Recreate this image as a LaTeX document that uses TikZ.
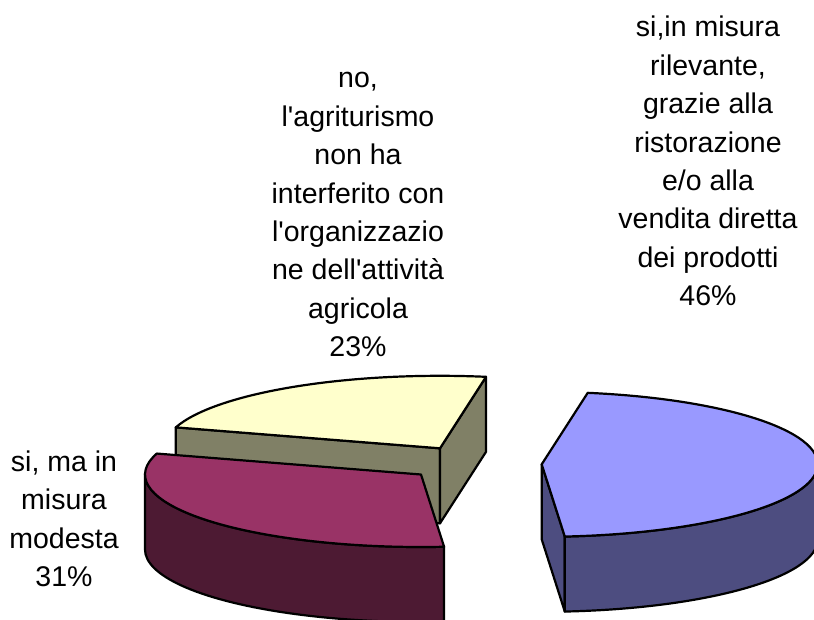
\documentclass[tikz,border=0pt]{standalone}
\usepackage{fontspec}
\setmainfont{Liberation Sans}[Ligatures=TeXOff]
\usepackage{tikz}

\definecolor{bluetop}{HTML}{9999FF}
\definecolor{blueside}{HTML}{4D4D80}
\definecolor{plumtop}{HTML}{993366}
\definecolor{plumside}{HTML}{4D1A33}
\definecolor{creamtop}{HTML}{FFFFCC}
\definecolor{creamside}{HTML}{808066}

\tikzset{
  slice/.style={draw=black, line width=2.2pt, line join=round},
  pielabel/.style={align=center, inner sep=0pt, anchor=base,
    font=\fontsize{28.5}{38.4}\selectfont}
}

\begin{document}
\begin{tikzpicture}[x=1pt, y=-1pt]
\useasboundingbox (0,0) rectangle (814,619);
\clip (0,0) rectangle (814,619);

\def\rx{276}
\def\ry{72.5}
\def\dep{75}

%slice centres
\coordinate (cream) at (440,448.3);
\coordinate (plum) at (421,474.5);
\coordinate (blue) at (541.7,464.3);

%no, 23%
\filldraw[slice, fill=creamside] (cream) -- ++(0,\dep) -- ++(-163.2:276 and 72.5) -- ++(0,-\dep) -- cycle;
\filldraw[slice, fill=creamside] (cream) -- ++(0,\dep) -- ++(-80.4:276 and 72.5) -- ++(0,-\dep) -- cycle;
\filldraw[slice, fill=creamtop] (cream) -- ++(-163.2:276 and 72.5)
    arc[start angle=-163.2, end angle=-80.4, x radius=\rx, y radius=\ry] -- cycle;

%si, ma in misura modesta, 31%
\filldraw[slice, fill=plumside] (plum) ++(85.2:276 and 72.5)
    arc[start angle=85.2, end angle=180, x radius=\rx, y radius=\ry] -- ++(0,\dep)
    arc[start angle=180, end angle=85.2, x radius=\rx, y radius=\ry] -- cycle;
\filldraw[slice, fill=plumtop] (plum) -- ++(85.2:276 and 72.5)
    arc[start angle=85.2, end angle=196.8, x radius=\rx, y radius=\ry] -- cycle;

%si, in misura rilevante, 46%
\filldraw[slice, fill=blueside] (blue) -- ++(0,\dep) -- ++(85.2:276 and 72.5) -- ++(0,-\dep) -- cycle;
\filldraw[slice, fill=blueside] (blue) ++(0:276 and 72.5)
    arc[start angle=0, end angle=85.2, x radius=\rx, y radius=\ry] -- ++(0,\dep)
    arc[start angle=85.2, end angle=0, x radius=\rx, y radius=\ry] -- cycle;
\filldraw[slice, fill=bluetop] (blue) -- ++(-80.4:276 and 72.5)
    arc[start angle=-80.4, end angle=85.2, x radius=\rx, y radius=\ry] -- cycle;

%labels (anchored at the last line)
\node[pielabel] (lblno) at (358,356.6) {no,\\l'agriturismo\\non ha\\interferito con\\l'organizzazio\\ne dell'attività\\agricola\\23\%};
\node[pielabel] (lblmodesta) at (64,586.7) {si, ma in\\misura\\modesta\\31\%};
\node[pielabel] (lblrilevante) at (708,305.6) {si,in misura\\rilevante,\\grazie alla\\ristorazione\\e/o alla\\vendita diretta\\dei prodotti\\46\%};
\end{tikzpicture}
\end{document}
